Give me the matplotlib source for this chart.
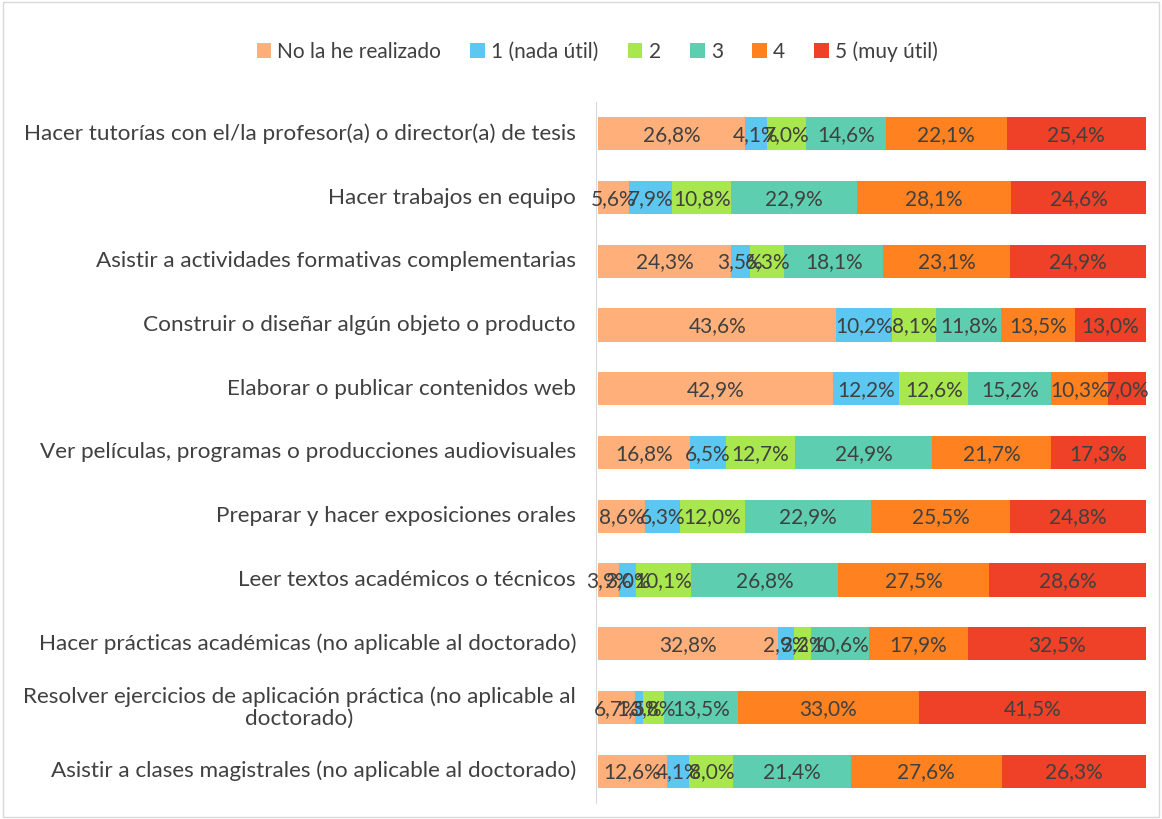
import matplotlib
matplotlib.use("Agg")
import matplotlib.pyplot as plt
import matplotlib.transforms as mtransforms
import numpy as np

plt.rcParams['font.family'] = ['Lato', 'DejaVu Sans']

categories = [
    "Hacer tutorías con el/la profesor(a) o director(a) de tesis",
    "Hacer trabajos en equipo",
    "Asistir a actividades formativas complementarias",
    "Construir o diseñar algún objeto o producto",
    "Elaborar o publicar contenidos web",
    "Ver películas, programas o producciones audiovisuales",
    "Preparar y hacer exposiciones orales",
    "Leer textos académicos o técnicos",
    "Hacer prácticas académicas (no aplicable al doctorado)",
    "Resolver ejercicios de aplicación práctica (no aplicable al\ndoctorado)",
    "Asistir a clases magistrales (no aplicable al doctorado)",
]
series_names = ["No la he realizado", "1 (nada útil)", "2", "3", "4", "5 (muy útil)"]
no_realizado = [26.8, 5.6, 24.3, 43.6, 42.9, 16.8, 8.6, 3.9, 32.8, 6.7, 12.6]
s1 = [4.1, 7.9, 3.5, 10.2, 12.2, 6.5, 6.3, 3.0, 2.9, 1.5, 4.1]
s2 = [7.0, 10.8, 6.3, 8.1, 12.6, 12.7, 12.0, 10.1, 3.2, 3.8, 8.0]
s3 = [14.6, 22.9, 18.1, 11.8, 15.2, 24.9, 22.9, 26.8, 10.6, 13.5, 21.4]
s4 = [22.1, 28.1, 23.1, 13.5, 10.3, 21.7, 25.5, 27.5, 17.9, 33.0, 27.6]
s5 = [25.4, 24.6, 24.9, 13.0, 7.0, 17.3, 24.8, 28.6, 32.5, 41.5, 26.3]
colors = ["#FFB07A", "#5CC8F2", "#A8E84E", "#5DCFB0", "#FF8120", "#EE4127"]

data = np.array([no_realizado, s1, s2, s3, s4, s5])
totals = data.sum(axis=0)
shares = data / totals * 100

fig = plt.figure(figsize=(11.62, 8.19), dpi=100)
ax = fig.add_axes([0.5146, 0.0195, 0.4716, 0.856])
y = np.arange(len(categories))
left = np.zeros(len(categories))
txtc = "#404040"
for i in range(6):
    ax.barh(y, shares[i], left=left, height=0.52, color=colors[i], label=series_names[i])
    for j in range(len(categories)):
        ax.text(left[j] + shares[i][j] / 2, y[j] + 0.02, f"{data[i][j]:.1f}%".replace(".", ","),
                ha="center", va="center", fontsize=15, color=txtc)
    left += shares[i]

ax.set_xlim(0, 100)
ax.set_ylim(len(categories) - 0.5, -0.5)
ax.set_yticks([])
ax.set_xticks([])
trans = mtransforms.blended_transform_factory(ax.transAxes, ax.transData)
for j, cat in enumerate(categories):
    ax.text(-0.04, y[j], cat, transform=trans, ha="right", va="center",
            multialignment="center", fontsize=16.2, color=txtc, linespacing=1.1)
for s in ["top", "right", "bottom"]:
    ax.spines[s].set_visible(False)
ax.spines["left"].set_color("#D9D9D9")
ax.spines["left"].set_position(("data", -0.3))

handles, labels = ax.get_legend_handles_labels()
leg = fig.legend(handles, labels, loc="center", bbox_to_anchor=(0.514, 0.937), ncol=6,
                 frameon=False, fontsize=15, handlelength=0.7, handleheight=0.7,
                 handletextpad=0.3, columnspacing=1.4)
for t in leg.get_texts():
    t.set_color(txtc)

fig.patches.append(plt.Rectangle((0.003, 0.003), 0.994, 0.994, transform=fig.transFigure,
                                 fill=False, edgecolor="#D9D9D9", linewidth=1))
fig.savefig("out.png", dpi=100)
